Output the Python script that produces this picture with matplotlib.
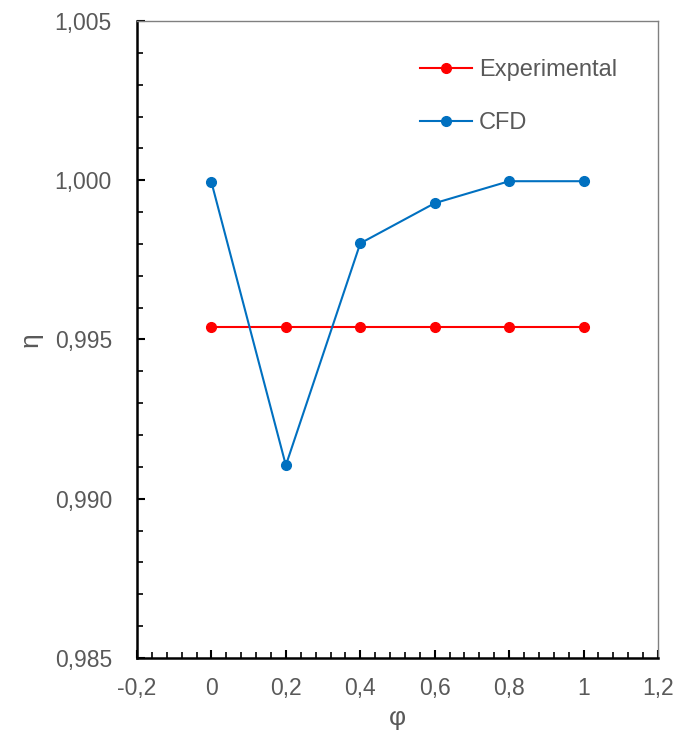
import matplotlib
matplotlib.use("Agg")
import matplotlib.pyplot as plt
from matplotlib.ticker import MultipleLocator, FuncFormatter

phi = [0.0, 0.2, 0.4, 0.6, 0.8, 1.0]
eta_exp = [0.99538, 0.99538, 0.99538, 0.99538, 0.99538, 0.99538]
eta_cfd = [0.99994, 0.99105, 0.99802, 0.99928, 0.99997, 0.99997]

plt.rcParams['font.family'] = ['Liberation Sans', 'DejaVu Sans']
gray = '#595959'

fig = plt.figure(figsize=(6.77, 7.35), dpi=100)
ax = fig.add_axes([137 / 677, 1 - 658 / 735, (658 - 137) / 677, (658 - 21) / 735])

ax.plot(phi, eta_exp, color='#FF0000', lw=1.5, marker='o', ms=7, label='Experimental')
ax.plot(phi, eta_cfd, color='#0070C0', lw=1.5, marker='o', ms=7, label='CFD')

ax.set_xlim(-0.2, 1.2)
ax.set_ylim(0.985, 1.005)
ax.xaxis.set_major_locator(MultipleLocator(0.2))
ax.xaxis.set_minor_locator(MultipleLocator(0.04))
ax.yaxis.set_major_locator(MultipleLocator(0.005))
ax.yaxis.set_minor_locator(MultipleLocator(0.001))

def fx(v, p):
    s = f"{v:.1f}".rstrip('0').rstrip('.')
    if s in ('-0',):
        s = '0'
    return s.replace('.', ',')

def fy(v, p):
    return f"{v:.3f}".replace('.', ',')

ax.xaxis.set_major_formatter(FuncFormatter(fx))
ax.yaxis.set_major_formatter(FuncFormatter(fy))

ax.tick_params(axis='both', which='major', direction='in', length=6, width=1.5,
               labelsize=16.5, labelcolor=gray, color='black')
ax.tick_params(axis='both', which='minor', direction='in', length=4, width=1.2, color='black')
ax.tick_params(axis='y', which='major', pad=18)
ax.tick_params(axis='x', which='major', pad=14)

for s in ('left', 'bottom'):
    ax.spines[s].set_color('black')
    ax.spines[s].set_linewidth(1.8)
for s in ('top', 'right'):
    ax.spines[s].set_color('#808080')
    ax.spines[s].set_linewidth(1.0)

ax.set_xlabel('φ', fontsize=19, color=gray, labelpad=4)
ax.set_ylabel('η', fontsize=19, color=gray, labelpad=9)

leg = ax.legend(loc='upper left', bbox_to_anchor=(0.525, 0.955), frameon=False,
                fontsize=17, handlelength=2.2, labelspacing=1.3, handletextpad=0.3,
                borderaxespad=0)
for t in leg.get_texts():
    t.set_color(gray)

fig.savefig('out.png', dpi=100)
